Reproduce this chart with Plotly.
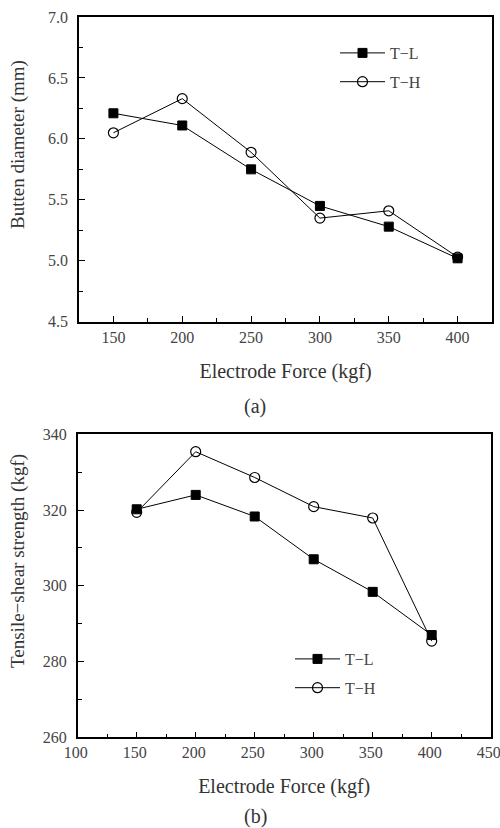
import plotly.graph_objects as go

force = [150, 200, 250, 300, 350, 400]
diam_TL = [6.21, 6.11, 5.75, 5.45, 5.28, 5.02]
diam_TH = [6.05, 6.33, 5.89, 5.35, 5.41, 5.03]
tss_TL = [320.2, 324.0, 318.3, 307.0, 298.4, 287.0]
tss_TH = [319.4, 335.4, 328.6, 320.9, 317.9, 285.4]
series_names = ["T\u2212L", "T\u2212H"]
x_title = "Electrode Force (kgf)"
y_title_a = "Butten diameter (mm)"
y_title_b = "Tensile\u2212shear strength (kgf)"

FONT = "Liberation Serif"
fig = go.Figure()

sq = dict(symbol="square", size=9, color="black", line=dict(color="black", width=1))
ci = dict(symbol="circle-open", size=10, color="black", line=dict(color="black", width=1.2))

fig.add_trace(go.Scatter(x=force, y=diam_TL, mode="lines+markers", name=series_names[0],
                         line=dict(color="black", width=1), marker=sq,
                         xaxis="x", yaxis="y", legend="legend", legendgroup="a1"))
fig.add_trace(go.Scatter(x=force, y=diam_TH, mode="lines+markers", name=series_names[1],
                         line=dict(color="black", width=1), marker=ci,
                         xaxis="x", yaxis="y", legend="legend", legendgroup="a2"))
fig.add_trace(go.Scatter(x=force, y=tss_TL, mode="lines+markers", name=series_names[0],
                         line=dict(color="black", width=1), marker=sq,
                         xaxis="x2", yaxis="y2", legend="legend2", legendgroup="b1"))
fig.add_trace(go.Scatter(x=force, y=tss_TH, mode="lines+markers", name=series_names[1],
                         line=dict(color="black", width=1), marker=ci,
                         xaxis="x2", yaxis="y2", legend="legend2", legendgroup="b2"))

W, H = 500, 828
def px_x(v):
    return v / W
def px_y(v):
    return 1 - v / H

axis_common = dict(showline=True, linecolor="black", linewidth=1.6, mirror=True,
                   ticks="inside", ticklen=6, tickwidth=1, tickcolor="black",
                   showgrid=False, zeroline=False, automargin=False,
                   tickfont=dict(family=FONT, size=16, color="#444"),
                   title_font=dict(family=FONT, size=20, color="#333"))

title_font = dict(family=FONT, size=19, color="#333")

fig.update_layout(
    width=W, height=H,
    margin=dict(l=0, r=0, t=0, b=0),
    paper_bgcolor="white", plot_bgcolor="white",
    font=dict(family=FONT, color="#333"),
    xaxis=dict(domain=[px_x(79), px_x(492)], range=[125, 425], anchor="y",
               tick0=150, dtick=50,
               minor=dict(ticks="inside", ticklen=4, dtick=25, tick0=125, tickcolor="black"),
               title=dict(text=x_title, standoff=19),
               **axis_common),
    yaxis=dict(domain=[px_y(321.7), px_y(17)], range=[4.5, 7.0], anchor="x",
               tick0=4.5, dtick=0.5, tickformat=".1f",
               minor=dict(ticks="inside", ticklen=4, dtick=0.25, tickcolor="black"),
               ticklabelstandoff=6,
               **axis_common),
    xaxis2=dict(domain=[px_x(77.7), px_x(490.7)], range=[100, 450], anchor="y2",
                tick0=100, dtick=50, ticklabeloverflow="allow", ticklabelshift=-2,
                minor=dict(ticks="inside", ticklen=4, dtick=25, tickcolor="black"),
                title=dict(text=x_title, standoff=19),
                **axis_common),
    yaxis2=dict(domain=[px_y(737.3), px_y(434.3)], range=[260, 340], anchor="x2",
                tick0=260, dtick=20,
                minor=dict(ticks="inside", ticklen=4, dtick=10, tickcolor="black"),
                ticklabelstandoff=6,
                **axis_common),
    legend=dict(x=px_x(335), y=px_y(36), xanchor="left", yanchor="top",
                bgcolor="rgba(0,0,0,0)", tracegroupgap=5, itemwidth=45,
                font=dict(family=FONT, size=16, color="#444")),
    legend2=dict(x=px_x(290), y=px_y(642), xanchor="left", yanchor="top",
                 bgcolor="rgba(0,0,0,0)", tracegroupgap=5, itemwidth=45,
                 font=dict(family=FONT, size=16, color="#444")),
    annotations=[
        dict(text=y_title_a, x=px_x(18), y=px_y(145), xref="paper", yref="paper",
             xanchor="center", yanchor="middle", textangle=-90, showarrow=False,
             borderpad=0, font=title_font),
        dict(text=y_title_b, x=px_x(18), y=px_y(561), xref="paper", yref="paper",
             xanchor="center", yanchor="middle", textangle=-90, showarrow=False,
             borderpad=0, font=title_font),
        dict(text="(a)", x=px_x(255), y=px_y(407), xref="paper", yref="paper",
             xanchor="center", yanchor="middle", showarrow=False,
             font=dict(family=FONT, size=20, color="#333")),
        dict(text="(b)", x=px_x(255), y=px_y(816), xref="paper", yref="paper",
             xanchor="center", yanchor="middle", showarrow=False,
             font=dict(family=FONT, size=20, color="#333")),
    ],
)

# remove the browser's default 8px page margin so the figure fills the window
fig.write_html("out.html", config={"displayModeBar": False},
               post_script="document.body.style.margin='0px';")
